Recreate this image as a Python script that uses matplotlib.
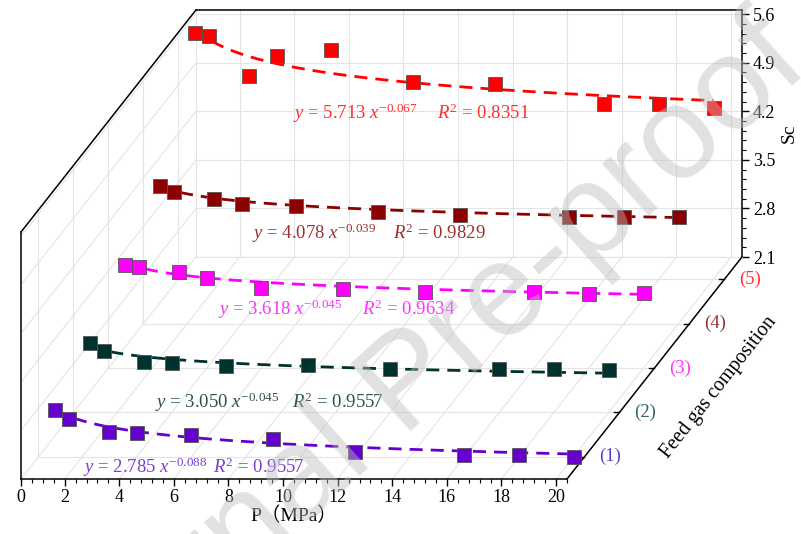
import numpy as np
import matplotlib
matplotlib.use('Agg')
import matplotlib.pyplot as plt
from matplotlib.transforms import Affine2D
from matplotlib.ticker import MultipleLocator

plt.rcParams['font.family'] = ['Liberation Serif', 'Noto Sans CJK SC']
plt.rcParams['mathtext.fontset'] = 'custom'
plt.rcParams['mathtext.rm'] = 'Liberation Serif'
plt.rcParams['mathtext.it'] = 'Liberation Serif:italic'

# pressure (MPa)
p = [1, 1.5, 3, 4, 6, 9, 12, 16, 18, 20]

# Sc for each feed gas composition
sc_1 = [2.77, 2.64, 2.46, 2.44, 2.42, 2.36, 2.17, 2.12, 2.12, 2.10]
sc_2 = [3.10, 2.98, 2.83, 2.81, 2.77, 2.78, 2.73, 2.73, 2.72, 2.71]
sc_3 = [3.59, 3.55, 3.48, 3.39, 3.25, 3.24, 3.19, 3.19, 3.17, 3.18]
sc_4 = [4.09, 4.00, 3.90, 3.82, 3.80, 3.71, 3.66, 3.64, 3.64, 3.64]
sc_5 = [5.65, 5.61, 5.03, 5.32, 5.40, 4.94, 4.92, 4.63, 4.62, 4.57]

composition = [1, 2, 3, 4, 5]
comp_labels = ['(1)', '(2)', '(3)', '(4)', '(5)']

# power fits y = a * x^b
fit_a = [2.785, 3.050, 3.618, 4.078, 5.713]
fit_b = [-0.088, -0.045, -0.045, -0.039, -0.067]
fit_r2 = [0.9557, 0.9557, 0.9634, 0.9829, 0.8351]

sc_ticks = [2.1, 2.8, 3.5, 4.2, 4.9, 5.6]
p_ticks = [2, 4, 6, 8, 10, 12, 14, 16, 18, 20]

colors = ['#6600CC', '#003330', '#FF00FF', '#8B0000', '#FF0000']
text_colors = ['#7B3FD6', '#2F4F4F', '#FF33FF', '#A03030', '#FF3030']
label_colors = ['#5A3FD0', '#336666', '#FF33FF', '#993333', '#FF3333']
# where the fit equations sit (P, Sc) in each layer
eq_pos = [(2.03, 1.95), (3.39, 2.25), (4.41, 2.94), (4.37, 3.40), (4.59, 4.49)]
r2_pos = [(6.79, 1.95), (8.41, 2.25), (9.69, 2.94), (9.54, 3.40), (9.87, 4.49)]

p_lim = (0.4, 20.4)
sc_lim = (2.1, 5.66)
depth_lim = (0.5, 5.5)
# shift of the back wall against the front face, in data units
DP, DS = 6.41, 3.2
grid_c = '#E4E4E4'

fig = plt.figure(figsize=(8.01, 5.34), dpi=100)

# back wall, carries the Sc axis
axb = fig.add_axes([196 / 801, 277 / 534, 546 / 801, 247 / 534])
axb.set_xlim(p_lim)
axb.set_ylim(sc_lim)
axb.set_xticks(p_ticks)
axb.tick_params(axis='x', length=0, labelbottom=False)
axb.grid(True, color=grid_c, lw=0.8)
axb.yaxis.tick_right()
axb.set_yticks(sc_ticks)
axb.set_yticklabels([f'{v:.1f}' for v in sc_ticks])
axb.yaxis.set_minor_locator(MultipleLocator(0.14))
axb.tick_params(axis='y', which='major', direction='out', length=5, width=1,
                labelsize=13, pad=3)
axb.tick_params(axis='y', which='minor', direction='out', length=3, width=0.8)
axb.yaxis.set_label_position('right')
axb.set_ylabel('Sc', fontsize=14, labelpad=4)
for side in ['left', 'bottom']:
    axb.spines[side].set_color(grid_c)
for side in ['top', 'right']:
    axb.spines[side].set_linewidth(1.1)

# front face, carries the P axis and all the data
ax = fig.add_axes([21 / 801, 55 / 534, 546 / 801, 247 / 534])
ax.patch.set_alpha(0)
ax.set_xlim(p_lim)
ax.set_ylim(sc_lim)
ax.set_xticks([0.4] + p_ticks)
ax.set_xticklabels(['0'] + [str(v) for v in p_ticks])
ax.xaxis.set_minor_locator(MultipleLocator(0.4))
ax.tick_params(axis='x', which='major', direction='out', length=5, width=1,
               labelsize=13, pad=2)
ax.tick_params(axis='x', which='minor', direction='out', length=3, width=0.8)
ax.set_yticks([])
ax.spines['top'].set_visible(False)
ax.spines['right'].set_visible(False)
ax.spines['left'].set_linewidth(1.1)
ax.spines['bottom'].set_linewidth(1.1)
ax.set_xlabel('P（MPa）', fontsize=14, labelpad=1)

k = 1 / (depth_lim[1] - depth_lim[0])
# floor: (P, composition) ; left wall: (composition, Sc)
floor = Affine2D.from_values(1, 0, DP * k, DS * k,
                             -depth_lim[0] * DP * k,
                             sc_lim[0] - depth_lim[0] * DS * k) + ax.transData
wall = Affine2D.from_values(DP * k, DS * k, 0, 1,
                            p_lim[0] - depth_lim[0] * DP * k,
                            -depth_lim[0] * DS * k) + ax.transData

# floor grid
for v in p_ticks:
    ax.plot([v, v], depth_lim, color=grid_c, lw=0.8, transform=floor,
            clip_on=False, zorder=0.5)
for c in composition:
    ax.plot(p_lim, [c, c], color=grid_c, lw=0.8, transform=floor,
            clip_on=False, zorder=0.5)
ax.plot([p_lim[0]] * 2, depth_lim, color=grid_c, lw=0.8, transform=floor,
        clip_on=False, zorder=0.5)
# left wall grid
for v in sc_ticks[1:]:
    ax.plot(depth_lim, [v, v], color=grid_c, lw=0.8, transform=wall,
            clip_on=False, zorder=0.5)
for c in composition:
    ax.plot([c, c], sc_lim, color=grid_c, lw=0.8, transform=wall,
            clip_on=False, zorder=0.5)

# black box edges
ax.plot(depth_lim, [sc_lim[1]] * 2, color='black', lw=1.1, transform=wall,
        clip_on=False, zorder=2)
ax.plot([p_lim[1]] * 2, depth_lim, color='black', lw=1.1, transform=floor,
        clip_on=False, zorder=2)

# composition axis ticks and labels
for c, lab, col in zip(composition, comp_labels, label_colors):
    ax.plot([p_lim[1] - 0.2, p_lim[1]], [c, c], color='black', lw=1,
            transform=floor, clip_on=False, zorder=2)
    ax.text(p_lim[1] + 0.55, c, lab, color=col, fontsize=13.5, ha='left',
            va='center', transform=floor)
ax.text(23.3, 2.57, 'Feed gas composition', fontsize=14.5, rotation=51.7,
        rotation_mode='anchor', ha='center', va='center', transform=floor)

series = [sc_1, sc_2, sc_3, sc_4, sc_5]
pp = np.linspace(1, 20, 200)
for i in range(len(series)):
    t = (composition[i] - depth_lim[0]) * k
    layer = Affine2D().translate(t * DP, t * DS) + ax.transData
    ax.plot(pp, fit_a[i] * pp ** fit_b[i], ls=(0, (4.7, 2.9)), lw=2,
            color=colors[i], transform=layer, clip_on=False, zorder=3)
    ax.plot(p, series[i], ls='none', marker='s', ms=9.5, mfc=colors[i],
            mec='#555555', mew=0.6, transform=layer, clip_on=False, zorder=4)
    ax.text(eq_pos[i][0], eq_pos[i][1],
            rf'$y$ = {fit_a[i]:.3f} $x^{{{fit_b[i]}}}$',
            color=text_colors[i], fontsize=13.5, ha='left', va='center',
            transform=layer)
    ax.text(r2_pos[i][0], r2_pos[i][1], rf'$R^2$ = {fit_r2[i]:.4f}',
            color=text_colors[i], fontsize=13.5, ha='left', va='center',
            transform=layer)

# watermark
fig.text(410 / 801, 1 - 385 / 534, 'Journal Pre-proof', fontsize=95,
         family='Liberation Sans', color='#BDBDBD', alpha=0.45, rotation=42,
         rotation_mode='anchor', ha='center', va='center', zorder=10)

fig.savefig('out.png', dpi=100)
